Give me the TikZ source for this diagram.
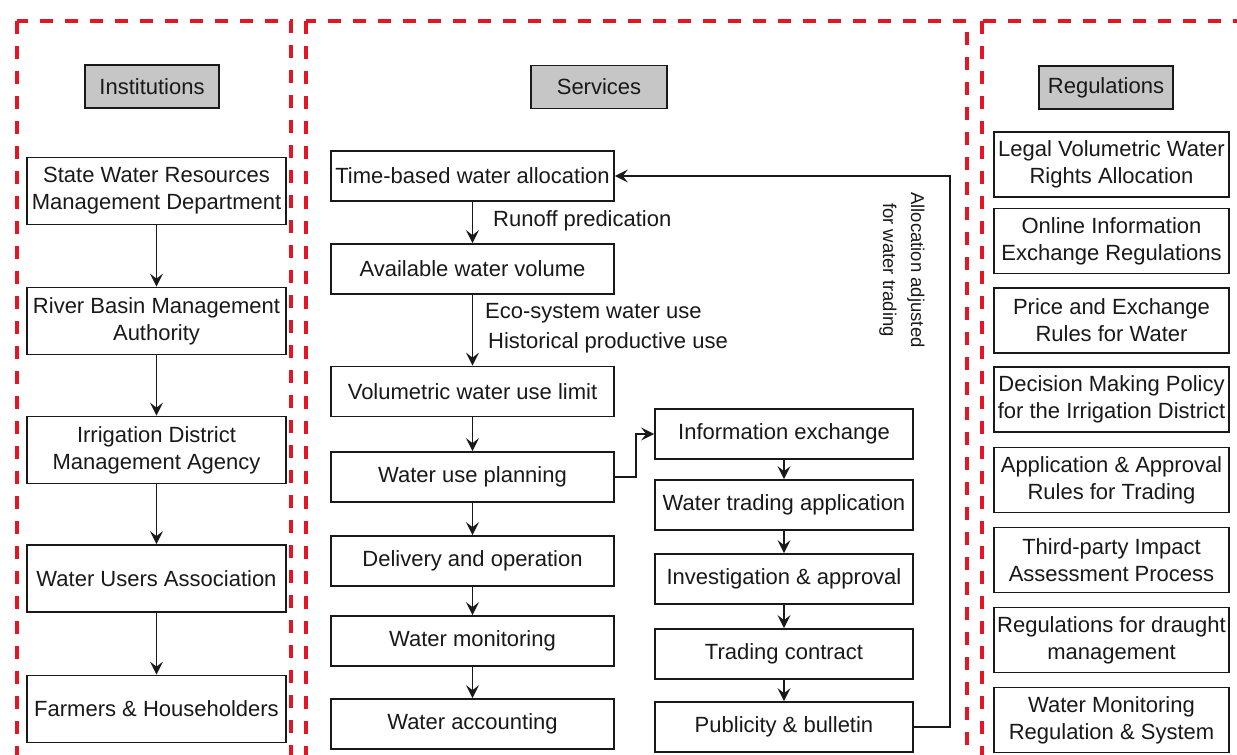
\documentclass[tikz,border=0pt]{standalone}
\usepackage{fontspec}
\setmainfont{Liberation Sans}
\usetikzlibrary{arrows.meta}
\definecolor{dred}{RGB}{228,22,38}
\definecolor{ink}{RGB}{25,25,25}
\definecolor{tgray}{RGB}{198,198,198}
\begin{document}
\begin{tikzpicture}[x=1pt,y=-1pt,
  every node/.style={font=\fontsize{22}{27}\selectfont, text=ink},
  box/.style={draw=ink, line width=1.7pt, align=center, inner sep=0pt, fill=white},
  tbox/.style={box, fill=tgray, minimum height=43pt},
  lbox/.style={box, minimum width=259pt, minimum height=67pt},
  sbox/.style={box, minimum width=283pt, minimum height=50pt},
  tradebox/.style={box, minimum width=258pt, minimum height=50pt},
  rbox/.style={box, minimum width=235pt, minimum height=65pt},
  panel/.style={draw=dred, line width=4pt, dash pattern=on 13pt off 12pt},
  arr/.style={draw=ink, line width=1.7pt, -{Stealth[length=13pt,width=13pt,inset=5pt]}},
  lbl/.style={anchor=west, inner sep=0pt}
]
\useasboundingbox (0,0) rectangle (1237,755);
\fill[white] (0,0) rectangle (1237,755);
\begin{scope}
\clip (0,0) rectangle (1237,755);
\draw[panel] (17,21) rectangle (291,790);
\draw[panel] (306,21) rectangle (967,790);
\draw[panel] (982,21) rectangle (1270,790);
\end{scope}

% Institutions
\node[tbox, minimum width=134pt] (tinst) at (152,86.5) {Institutions};
\node[lbox] (sw) at (156.5,191) {State Water Resources\\Management Department};
\node[lbox] (rb) at (156.5,321) {River Basin Management\\Authority};
\node[lbox] (id) at (156.5,450) {Irrigation District\\Management Agency};
\node[lbox] (wu) at (156.5,578.5) {Water Users Association};
\node[lbox] (fh) at (156.5,709) {Farmers \& Householders};
\draw[arr] (sw) -- (rb);
\draw[arr] (rb) -- (id);
\draw[arr] (id) -- (wu);
\draw[arr] (wu) -- (fh);

% Services
\node[tbox, minimum width=136pt] (tserv) at (599,87) {Services};
\node[sbox] (time) at (472.5,176) {Time-based water allocation};
\node[sbox] (avail) at (472.5,269) {Available water volume};
\node[sbox] (vol) at (472.5,391.5) {Volumetric water use limit};
\node[sbox] (plan) at (472.5,477) {Water use planning};
\node[sbox] (deliv) at (472.5,561) {Delivery and operation};
\node[sbox] (mon) at (472.5,641) {Water monitoring};
\node[sbox] (acc) at (472.5,724) {Water accounting};
\draw[arr] (time) -- (avail);
\draw[arr] (avail) -- (vol);
\draw[arr] (vol) -- (plan);
\draw[arr] (plan) -- (deliv);
\draw[arr] (deliv) -- (mon);
\draw[arr] (mon) -- (acc);
\node[lbl] (runoff) at (493,221) {Runoff predication};
\node[lbl] (eco) at (485,313) {Eco-system water use};
\node[lbl] (hist) at (488,343) {Historical productive use};

\node[tradebox] (info) at (784,434) {Information exchange};
\node[tradebox] (wta) at (784,505) {Water trading application};
\node[tradebox] (inv) at (784,579) {Investigation \& approval};
\node[tradebox] (tc) at (784,654) {Trading contract};
\node[tradebox] (pub) at (784,727) {Publicity \& bulletin};
\draw[arr] (info) -- (wta);
\draw[arr] (wta) -- (inv);
\draw[arr] (inv) -- (tc);
\draw[arr] (tc) -- (pub);
\draw[arr] (plan.east) -- ++(21,0) |- (info.west);
\draw[arr] (pub.east) -- ++(36,0) |- (time.east);
\node[rotate=-90, align=center, inner sep=0pt, font=\fontsize{18.5}{28}\selectfont] (adj) at (902,270) {Allocation adjusted\\for water trading};

% Regulations
\node[tbox, minimum width=134pt] (treg) at (1106,87.5) {Regulations};
\node[rbox] (r1) at (1111.5,164.5) {Legal Volumetric Water\\Rights Allocation};
\node[rbox] (r2) at (1111.5,241) {Online Information\\Exchange Regulations};
\node[rbox] (r3) at (1111.5,320.5) {Price and Exchange\\Rules for Water};
\node[rbox] (r4) at (1111.5,399.5) {Decision Making Policy\\for the Irrigation District};
\node[rbox] (r5) at (1111.5,480) {Application \& Approval\\Rules for Trading};
\node[rbox] (r6) at (1111.5,560) {Third-party Impact\\Assessment Process};
\node[rbox] (r7) at (1111.5,640) {Regulations for draught\\management};
\node[rbox] (r8) at (1111.5,720) {Water Monitoring\\Regulation \& System};
\end{tikzpicture}
\end{document}
